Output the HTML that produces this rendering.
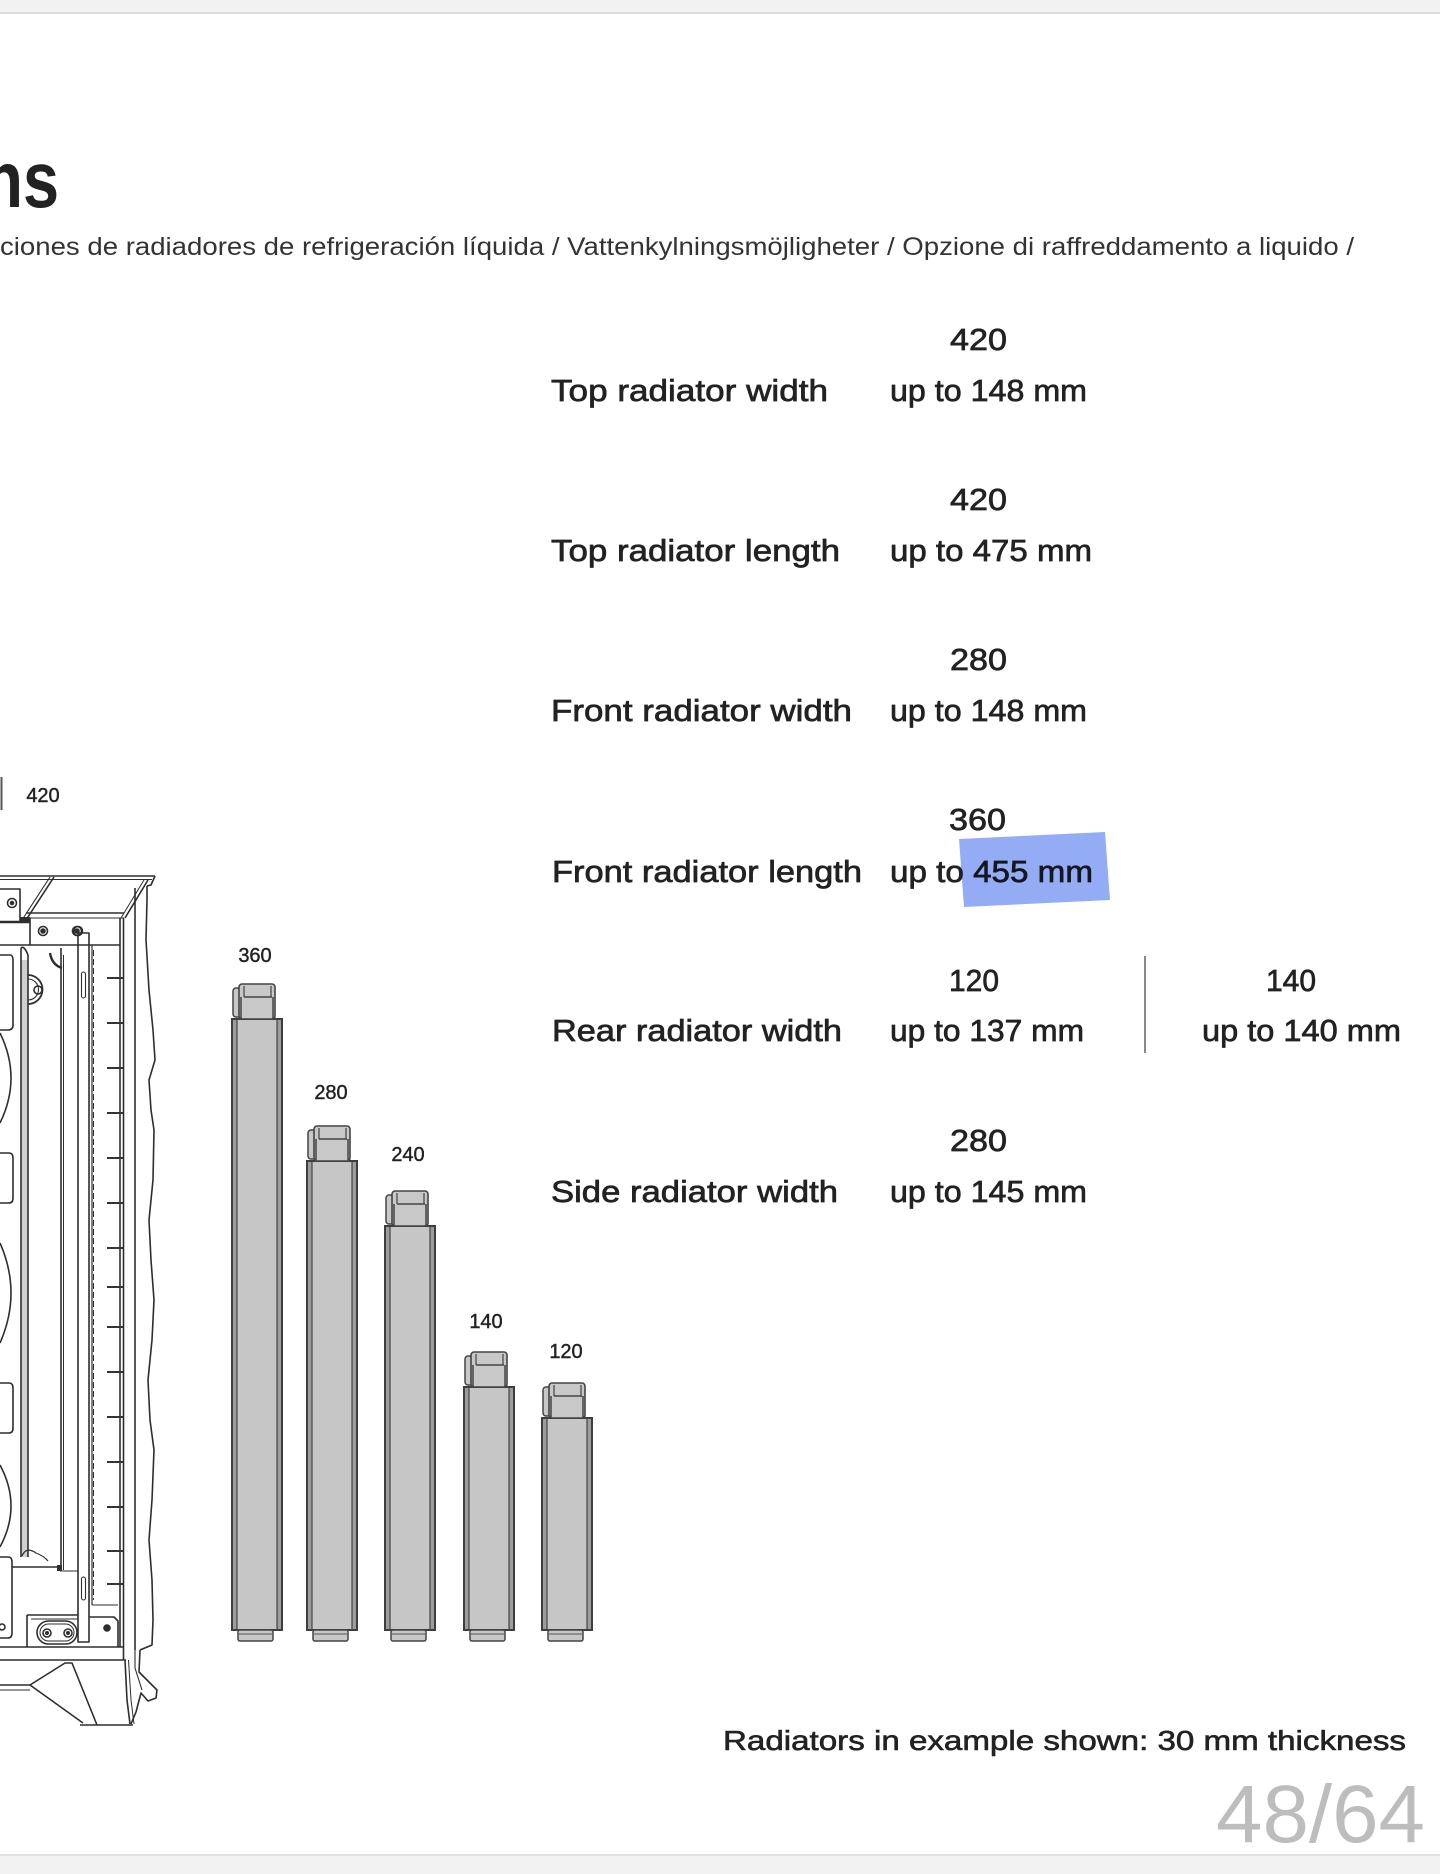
<!DOCTYPE html>
<html>
<head>
<meta charset="utf-8">
<style>
  html,body{margin:0;padding:0;background:#fff;}
  svg{display:block;}
  .t{font-family:"Liberation Sans",sans-serif;}
</style>
</head>
<body>
<svg width="1440" height="1874" viewBox="0 0 1440 1874" xmlns="http://www.w3.org/2000/svg">
  <rect x="0" y="0" width="1440" height="1874" fill="#ffffff"/>
  <!-- top band -->
  <rect x="0" y="0" width="1440" height="12" fill="#f2f2f2"/>
  <line x1="0" y1="13" x2="1440" y2="13" stroke="#dcdcdc" stroke-width="2"/>
  <!-- bottom band -->
  <rect x="0" y="1855" width="1440" height="19" fill="#f2f2f2"/>
  <line x1="0" y1="1855" x2="1440" y2="1855" stroke="#e0e0e0" stroke-width="2"/>

  <!-- title -->
  <text class="t" x="-20.5" y="207" font-size="80" font-weight="bold" fill="#222" transform="scale(0.81,1)">ns</text>
  <text class="t" x="0" y="255" font-size="25" fill="#333" textLength="1354" lengthAdjust="spacingAndGlyphs">ciones de radiadores de refrigeración líquida / Vattenkylningsmöjligheter  / Opzione di raffreddamento a liquido /</text>

  <!-- table -->
  <g class="t" font-size="31" fill="#222" stroke="#222" stroke-width="0.7">
    <text x="950" y="350" textLength="57" lengthAdjust="spacingAndGlyphs">420</text>
    <text x="551" y="401" textLength="277" lengthAdjust="spacingAndGlyphs">Top radiator width</text>
    <text x="890" y="401" textLength="197" lengthAdjust="spacingAndGlyphs">up to 148 mm</text>

    <text x="950" y="510" textLength="57" lengthAdjust="spacingAndGlyphs">420</text>
    <text x="551" y="561" textLength="289" lengthAdjust="spacingAndGlyphs">Top radiator length</text>
    <text x="890" y="561" textLength="202" lengthAdjust="spacingAndGlyphs">up to 475 mm</text>

    <text x="950" y="670" textLength="57" lengthAdjust="spacingAndGlyphs">280</text>
    <text x="551" y="721" textLength="301" lengthAdjust="spacingAndGlyphs">Front radiator width</text>
    <text x="890" y="721" textLength="197" lengthAdjust="spacingAndGlyphs">up to 148 mm</text>

    <text x="949" y="830" textLength="57" lengthAdjust="spacingAndGlyphs">360</text>
    <text x="552" y="882" textLength="310" lengthAdjust="spacingAndGlyphs">Front radiator length</text>
    <text x="890" y="882" textLength="203" lengthAdjust="spacingAndGlyphs">up to 455 mm</text>

    <text x="949" y="991" textLength="50" lengthAdjust="spacingAndGlyphs">120</text>
    <text x="552" y="1041" textLength="290" lengthAdjust="spacingAndGlyphs">Rear radiator width</text>
    <text x="890" y="1041" textLength="194" lengthAdjust="spacingAndGlyphs">up to 137 mm</text>
    <text x="1266" y="991" textLength="50" lengthAdjust="spacingAndGlyphs">140</text>
    <text x="1202" y="1041" textLength="199" lengthAdjust="spacingAndGlyphs">up to 140 mm</text>

    <text x="950" y="1151" textLength="57" lengthAdjust="spacingAndGlyphs">280</text>
    <text x="551" y="1202" textLength="287" lengthAdjust="spacingAndGlyphs">Side radiator width</text>
    <text x="890" y="1202" textLength="197" lengthAdjust="spacingAndGlyphs">up to 145 mm</text>
  </g>
  <line x1="1145" y1="956" x2="1145" y2="1053" stroke="#888" stroke-width="2"/>

  <!-- selection highlight -->
  <polygon points="959,839 1105,832 1110,900 964,907" fill="#8ea8f4" style="mix-blend-mode:multiply" opacity="0.95"/>

  <!-- footer note -->
  <text class="t" x="723" y="1750" font-size="28" fill="#222" stroke="#222" stroke-width="0.6" textLength="683" lengthAdjust="spacingAndGlyphs">Radiators in example shown: 30 mm thickness</text>
  <text class="t" x="1216" y="1842" font-size="82" fill="#bdbdbd" textLength="209" lengthAdjust="spacingAndGlyphs">48/64</text>

  <!-- radiator labels -->
  <g class="t" font-size="20" fill="#222" stroke="#222" stroke-width="0.4" text-anchor="middle">
    <text x="43" y="802">420</text>
    <text x="255" y="962">360</text>
    <text x="331" y="1099">280</text>
    <text x="408" y="1161">240</text>
    <text x="486" y="1328">140</text>
    <text x="566" y="1358">120</text>
  </g>
  <line x1="1.5" y1="777" x2="1.5" y2="810" stroke="#555" stroke-width="2"/>

  <!-- radiators -->
  <defs>
    <g id="rad-foot">
      <rect x="6" y="0" width="35" height="11" rx="2" fill="#c8c8c8" stroke="#444" stroke-width="1.5"/>
      <line x1="7" y1="4" x2="40" y2="4" stroke="#555" stroke-width="1"/>
    </g>
    <g id="rad-cap">
      <rect x="1" y="4" width="8" height="29" rx="3" fill="#c8c8c8" stroke="#444" stroke-width="1.5"/>
      <rect x="7" y="0" width="36" height="35" rx="3" fill="#c8c8c8" stroke="#444" stroke-width="1.6"/>
      <line x1="12" y1="13" x2="40" y2="13" stroke="#444" stroke-width="1.5"/>
      <line x1="12" y1="2" x2="12" y2="13" stroke="#444" stroke-width="1.2"/>
      <line x1="39" y1="2" x2="39" y2="13" stroke="#444" stroke-width="1.2"/>
      <line x1="9" y1="13" x2="9" y2="35" stroke="#444" stroke-width="1.5"/>
      <line x1="41" y1="13" x2="41" y2="35" stroke="#444" stroke-width="1.5"/>
    </g>
  </defs>

  <g id="bars">
    <g transform="translate(232,0)">
      <rect x="0" y="1019" width="50" height="611" fill="#c6c6c6" stroke="#3e3e3e" stroke-width="2"/>
      <rect x="1" y="1020" width="4" height="609" fill="#9c9c9c"/>
      <rect x="45" y="1020" width="4" height="609" fill="#9c9c9c"/>
      <line x1="5" y1="1019" x2="5" y2="1630" stroke="#444" stroke-width="1.2"/>
      <line x1="45" y1="1019" x2="45" y2="1630" stroke="#444" stroke-width="1.2"/>
      <g transform="translate(0,984)"><use href="#rad-cap"/></g>
      <g transform="translate(0,1630)"><use href="#rad-foot"/></g>
    </g>
    <g transform="translate(307,0)">
      <rect x="0" y="1161" width="50" height="469" fill="#c6c6c6" stroke="#3e3e3e" stroke-width="2"/>
      <rect x="1" y="1162" width="4" height="467" fill="#9c9c9c"/>
      <rect x="45" y="1162" width="4" height="467" fill="#9c9c9c"/>
      <line x1="5" y1="1161" x2="5" y2="1630" stroke="#444" stroke-width="1.2"/>
      <line x1="45" y1="1161" x2="45" y2="1630" stroke="#444" stroke-width="1.2"/>
      <g transform="translate(0,1126)"><use href="#rad-cap"/></g>
      <g transform="translate(0,1630)"><use href="#rad-foot"/></g>
    </g>
    <g transform="translate(385,0)">
      <rect x="0" y="1226" width="50" height="404" fill="#c6c6c6" stroke="#3e3e3e" stroke-width="2"/>
      <rect x="1" y="1227" width="4" height="402" fill="#9c9c9c"/>
      <rect x="45" y="1227" width="4" height="402" fill="#9c9c9c"/>
      <line x1="5" y1="1226" x2="5" y2="1630" stroke="#444" stroke-width="1.2"/>
      <line x1="45" y1="1226" x2="45" y2="1630" stroke="#444" stroke-width="1.2"/>
      <g transform="translate(0,1191)"><use href="#rad-cap"/></g>
      <g transform="translate(0,1630)"><use href="#rad-foot"/></g>
    </g>
    <g transform="translate(464,0)">
      <rect x="0" y="1387" width="50" height="243" fill="#c6c6c6" stroke="#3e3e3e" stroke-width="2"/>
      <rect x="1" y="1388" width="4" height="241" fill="#9c9c9c"/>
      <rect x="45" y="1388" width="4" height="241" fill="#9c9c9c"/>
      <line x1="5" y1="1387" x2="5" y2="1630" stroke="#444" stroke-width="1.2"/>
      <line x1="45" y1="1387" x2="45" y2="1630" stroke="#444" stroke-width="1.2"/>
      <g transform="translate(0,1352)"><use href="#rad-cap"/></g>
      <g transform="translate(0,1630)"><use href="#rad-foot"/></g>
    </g>
    <g transform="translate(542,0)">
      <rect x="0" y="1418" width="50" height="212" fill="#c6c6c6" stroke="#3e3e3e" stroke-width="2"/>
      <rect x="1" y="1419" width="4" height="210" fill="#9c9c9c"/>
      <rect x="45" y="1419" width="4" height="210" fill="#9c9c9c"/>
      <line x1="5" y1="1418" x2="5" y2="1630" stroke="#444" stroke-width="1.2"/>
      <line x1="45" y1="1418" x2="45" y2="1630" stroke="#444" stroke-width="1.2"/>
      <g transform="translate(0,1383)"><use href="#rad-cap"/></g>
      <g transform="translate(0,1630)"><use href="#rad-foot"/></g>
    </g>
  </g>

  <!-- case drawing -->
  <g fill="none" stroke="#2e2e2e" stroke-width="1.6" stroke-linejoin="round">
    <line x1="0" y1="876" x2="155" y2="876"/>
    <line x1="0" y1="879.5" x2="152" y2="879.5" stroke-width="1.1"/>
    <polyline points="155,876 151,885 147,886"/>
    <line x1="148" y1="880" x2="125" y2="918"/>
    <line x1="144" y1="880" x2="121" y2="918" stroke-width="1"/>
    <line x1="54" y1="877" x2="26" y2="920"/>
    <line x1="50" y1="877" x2="22" y2="920" stroke-width="1.1"/>
    <line x1="26" y1="913" x2="124" y2="913"/>
    <line x1="30" y1="918" x2="124" y2="918" stroke-width="1.1"/>
    <polyline points="0,889 20,889 20,922"/>
    <circle cx="12" cy="903" r="4.5"/>
    <circle cx="12" cy="903" r="1.5" fill="#2e2e2e"/>
    <line x1="0" y1="922" x2="30" y2="922" stroke-width="2.5"/>
    <rect x="20" y="917" width="10" height="6" fill="#2e2e2e" stroke="none"/>
    <line x1="30" y1="918" x2="30" y2="945"/>
    <line x1="0" y1="945" x2="120" y2="945"/>
    <circle cx="43" cy="931" r="4.5"/>
    <circle cx="43" cy="931" r="2" fill="#2e2e2e"/>
    <circle cx="77" cy="931" r="4.5"/>
    <circle cx="77" cy="931" r="2" fill="#2e2e2e"/>
    <line x1="120" y1="918" x2="120" y2="1647"/>
    <line x1="123.5" y1="918" x2="123.5" y2="1660"/>
    <line x1="135" y1="888" x2="135" y2="1650"/>
    <polyline points="147,886 147,900 146,940 149,990 153,1030 155,1060 149,1080 151,1110 154,1130 153,1180 149,1220 151,1260 154,1300 152,1340 148,1380 150,1420 154,1450 152,1500 149,1540 152,1580 153,1620 152,1645 140,1650"/>
    <g stroke="#333" stroke-width="2">
      <line x1="107" y1="978" x2="123" y2="978"/>
      <line x1="107" y1="1023" x2="123" y2="1023"/>
      <line x1="107" y1="1068" x2="123" y2="1068"/>
      <line x1="107" y1="1113" x2="123" y2="1113"/>
      <line x1="107" y1="1158" x2="123" y2="1158"/>
      <line x1="107" y1="1203" x2="123" y2="1203"/>
      <line x1="107" y1="1248" x2="123" y2="1248"/>
      <line x1="107" y1="1287" x2="123" y2="1287"/>
      <line x1="107" y1="1327" x2="123" y2="1327"/>
      <line x1="107" y1="1372" x2="123" y2="1372"/>
      <line x1="107" y1="1417" x2="123" y2="1417"/>
      <line x1="107" y1="1462" x2="123" y2="1462"/>
      <line x1="107" y1="1507" x2="123" y2="1507"/>
      <line x1="107" y1="1551" x2="123" y2="1551"/>
      <line x1="107" y1="1584" x2="123" y2="1584"/>
    </g>
    <rect x="78" y="933" width="11" height="709"/>
    <rect x="81.5" y="972" width="4" height="26" rx="2" stroke-width="1.1"/>
    <rect x="81.5" y="1577" width="4" height="23" rx="2" stroke-width="1.1"/>
    <circle cx="78" cy="931" r="4.5"/>
    <line x1="92" y1="945" x2="92" y2="1605" stroke-width="1.2"/>
    <line x1="93.5" y1="950" x2="93.5" y2="1600" stroke-width="1" stroke-dasharray="6 3"/>
    <line x1="92" y1="1605" x2="118" y2="1605" stroke-width="1.1"/>
    <line x1="61" y1="948" x2="61" y2="1570"/>
    <line x1="63.5" y1="955" x2="63.5" y2="1570" stroke-width="1"/>
    <rect x="21" y="960" width="7" height="597" fill="#cfcfcf" stroke="none"/>
    <line x1="21" y1="948" x2="21" y2="1557"/>
    <line x1="28" y1="955" x2="28" y2="1557"/>
    <path d="M21 948 Q24 945 28 955"/>
    <path d="M28 975 A14 14 0 1 1 28 1004" stroke-width="1.8"/>
    <path d="M28 979 A10 10 0 1 1 28 1000" stroke-width="1.1"/>
    <circle cx="38" cy="990" r="4"/>
    <path d="M50 953 Q52 965 62 968" stroke-width="2.4"/>
    <path d="M0 955 H10 Q13 955 13 960 V1025 Q13 1030 8 1030 H0"/>
    <path d="M0 1033 Q22 1078 0 1123"/>
    <path d="M0 1153 H9 Q13 1153 13 1158 V1198 Q13 1203 9 1203 H0"/>
    <path d="M0 1243 Q22 1293 0 1343"/>
    <path d="M0 1383 H9 Q13 1383 13 1388 V1428 Q13 1433 9 1433 H0"/>
    <path d="M0 1465 Q22 1506 0 1547"/>
    <path d="M0 1557 H8 Q12 1557 12 1562 V1633 Q12 1638 8 1638 H0"/>
    <circle cx="2" cy="1627" r="3"/>
    <path d="M22 1556 Q26 1546 36 1553 Q44 1556 48 1561" stroke-width="1.2"/>
    <line x1="12" y1="1567" x2="60" y2="1567"/>
    <rect x="57" y="1565" width="5" height="6" fill="#2e2e2e" stroke="none"/>
    <line x1="60" y1="1571" x2="78" y2="1571" stroke-width="1"/>
    <line x1="27" y1="1615" x2="78" y2="1615"/>
    <line x1="27" y1="1615" x2="27" y2="1647"/>
    <line x1="31" y1="1619" x2="78" y2="1619" stroke-width="1"/>
    <rect x="37" y="1621" width="40" height="23" rx="11.5"/>
    <rect x="40" y="1624" width="34" height="17" rx="8.5" stroke-width="1"/>
    <circle cx="47" cy="1633" r="4"/>
    <circle cx="47" cy="1633" r="1.2" fill="#2e2e2e"/>
    <circle cx="68" cy="1633" r="4"/>
    <circle cx="68" cy="1633" r="1.2" fill="#2e2e2e"/>
    <polyline points="89,1617 114,1617 118,1621 118,1647"/>
    <circle cx="107" cy="1628" r="3" fill="#2e2e2e"/>
    <line x1="0" y1="1647" x2="124" y2="1647"/>
    <line x1="0" y1="1660" x2="126" y2="1660"/>
    <polyline points="0,1685 30,1685 65,1663 72,1663 97,1725"/>
    <line x1="30" y1="1685" x2="83" y2="1723"/>
    <line x1="0" y1="1690" x2="30" y2="1690" stroke-width="1"/>
    <line x1="80" y1="1725" x2="133" y2="1725"/>
    <polyline points="125,1660 127,1700 130,1724"/>
    <polyline points="128.5,1660 131,1700 134,1724" stroke-width="1"/>
    <path d="M140 1650 L139 1672 L150 1683 L157 1690 L156 1698 L148 1701 L141 1693 L136 1712 L131 1724"/>
    <path d="M135 1650 L135 1668 L142 1690" stroke-width="1.1"/>
  </g>
</svg>
</body>
</html>
